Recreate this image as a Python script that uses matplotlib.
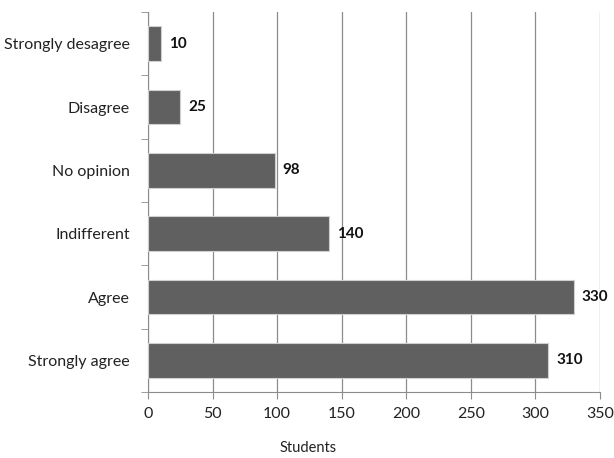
import matplotlib.pyplot as plt

categories = ['Strongly agree', 'Agree', 'Indifferent', 'No opinion', 'Disagree', 'Strongly desagree']
students = [310, 330, 140, 98, 25, 10]
x_ticks = [0, 50, 100, 150, 200, 250, 300, 350]

plt.rcParams['font.family'] = ['Lato', 'DejaVu Sans']

fig = plt.figure(figsize=(6.14, 4.58), dpi=100)
ax = fig.add_axes([148 / 614, 1 - 392 / 458, 452 / 614, 380 / 458])

pos = list(range(len(categories)))
bars = ax.barh(pos, students, height=0.55, color='#606060', edgecolor='#d0d0d0', linewidth=0.8, zorder=3)

for p, v in zip(pos, students):
    ax.text(v + 6, p, f'{v}', va='center', ha='left', fontsize=11, fontweight='bold', color='#111111')

ax.set_xlim(0, 350)
ax.set_ylim(-0.5, len(categories) - 0.5)
ax.set_xticks(x_ticks)
ax.set_yticks(pos)
ax.set_yticklabels(categories)
ax.set_yticks([p - 0.5 for p in pos] + [len(categories) - 0.5], minor=True)

ax.grid(axis='x', color='#8c8c8c', linewidth=0.9, zorder=0)
for side in ['top', 'right']:
    ax.spines[side].set_visible(False)
ax.spines['left'].set_color('#8c8c8c')
ax.spines['bottom'].set_color('#8c8c8c')

ax.tick_params(axis='y', which='major', length=0, pad=13, labelsize=11.5, labelcolor='#222222')
ax.tick_params(axis='y', which='minor', length=5, color='#8c8c8c')
ax.tick_params(axis='x', length=5, color='#8c8c8c', labelsize=11.5, labelcolor='#222222', pad=6)

ax.set_xlabel('Students', fontsize=10.5, color='#222222')
ax.xaxis.set_label_coords(160 / 452, -0.13)

plt.savefig('out.png', dpi=100)
